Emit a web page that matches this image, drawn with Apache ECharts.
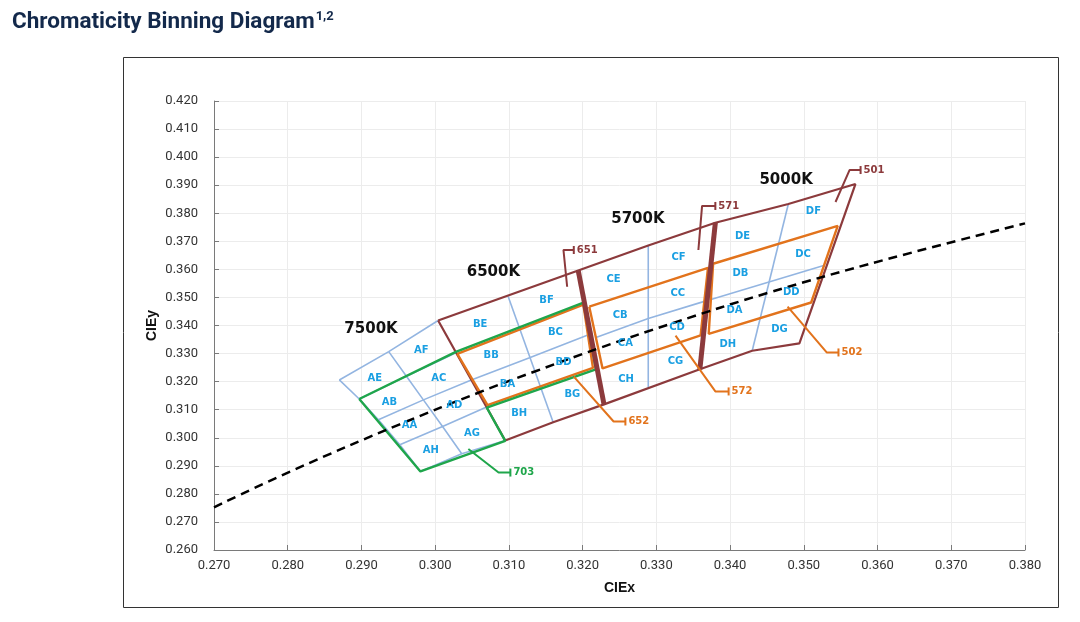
<!DOCTYPE html>
<html><head><meta charset="utf-8">
<script src="https://cdn.jsdelivr.net/npm/echarts@6/dist/echarts.min.js"></script>
<style>html,body{margin:0;padding:0;background:#fff}#c{width:1080px;height:622px}</style>
</head><body><div id="c"></div>
<script>
// ---- axis ranges ----
const xRange = [0.27, 0.38];
const yRange = [0.26, 0.42];
const tickStep = 0.01;

// ---- Planckian locus (dashed) ----
const planckX = [0.270, 0.2807, 0.2952, 0.3064, 0.3135, 0.3221, 0.3324, 0.3451, 0.3611, 0.380];
const planckY = [0.2752, 0.2884, 0.3048, 0.3166, 0.3236, 0.3318, 0.3410, 0.3516, 0.3635, 0.3764];

// ---- light blue sub-bin grid lines ----
const blue7500 = [
  [[0.2870,0.3206],[0.2897,0.3138],[0.2923,0.3064],[0.2952,0.2975],[0.2980,0.2880]],
  [[0.2937,0.3307],[0.2961,0.3219],[0.2984,0.3135],[0.3010,0.3040],[0.3036,0.2943]],
  [[0.2870,0.3206],[0.2937,0.3307],[0.3004,0.3418]],
  [[0.2897,0.3138],[0.2961,0.3219],[0.3029,0.3304]],
  [[0.2923,0.3064],[0.2984,0.3135],[0.3049,0.3206]],
  [[0.2952,0.2975],[0.3010,0.3040],[0.3069,0.3109]],
  [[0.2980,0.2880],[0.3036,0.2943],[0.3095,0.2990]]
];
const blue6500 = [
  [[0.3099,0.3503],[0.3160,0.3055]],
  [[0.3049,0.3206],[0.3128,0.3285],[0.3208,0.3367]]
];
const blue5700 = [
  [[0.3289,0.3685],[0.3289,0.3180]],
  [[0.3219,0.3358],[0.3289,0.3425],[0.3365,0.3486]]
];
const blue5000 = [
  [[0.3479,0.3833],[0.3430,0.3310]],
  [[0.3374,0.3493],[0.3527,0.3614]]
];

// ---- maroon outer outline and CCT separators ----
const outline = [[0.3004,0.3418],[0.3194,0.3596],[0.3289,0.3685],[0.3380,0.3766],[0.3479,0.3833],[0.3570,0.3904],
  [0.3494,0.3336],[0.3430,0.3310],[0.3359,0.3244],[0.3229,0.3119],[0.3160,0.3055],[0.3095,0.2990],[0.3004,0.3418]];
const sep651 = [[0.3194,0.3596],[0.3229,0.3119]];
const sep571 = [[0.3380,0.3766],[0.3359,0.3244]];

// ---- ANSI quadrangles (orange) ----
const ansi6500 = [[0.3030,0.3299],[0.3201,0.3474],[0.3214,0.3249],[0.3071,0.3116],[0.3030,0.3299]];
const ansi5700 = [[0.3209,0.3467],[0.3370,0.3605],[0.3360,0.3365],[0.3227,0.3247],[0.3209,0.3467]];
const ansi5000 = [[0.3377,0.3620],[0.3546,0.3755],[0.3510,0.3482],[0.3371,0.3370],[0.3377,0.3620]];

// ---- 703 zone (green) ----
const zone703 = [[0.2897,0.3138],[0.3028,0.3306],[0.3202,0.3482],[0.3218,0.3244],[0.3070,0.3107],[0.3095,0.2989],[0.2980,0.2880],[0.2897,0.3138]];

// ---- callouts ----
const leaderNames = ['651','571','501','652','572','502','703'];
const leaderKinds = ['maroon','maroon','maroon','orange','orange','orange','green'];
const leaderPts = [
  [[0.3179,0.3538],[0.3174,0.3669],[0.3188,0.3669]],
  [[0.3357,0.3669],[0.3362,0.3826],[0.3380,0.3826]],
  [[0.3543,0.3840],[0.3562,0.3954],[0.3577,0.3954]],
  [[0.3188,0.3218],[0.3242,0.3058],[0.3258,0.3058]],
  [[0.3326,0.3364],[0.3380,0.3165],[0.3398,0.3165]],
  [[0.3478,0.3467],[0.3531,0.3304],[0.3547,0.3304]],
  [[0.3045,0.2960],[0.3086,0.2876],[0.3102,0.2876]]
];

// ---- bin labels ----
const binNames = ['AE','AF','AB','AC','AA','AD','AH','AG','BE','BF','BB','BC','BA','BD','BH','BG',
  'CE','CF','CB','CC','CA','CD','CH','CG','DE','DF','DB','DC','DA','DD','DH','DG'];
const binX = [0.2918,0.2981,0.2938,0.3005,0.2965,0.3026,0.2994,0.3050, 0.3061,0.3151,0.3076,0.3163,0.3098,0.3174,0.3114,0.3186,
  0.3242,0.3330,0.3251,0.3329,0.3258,0.3328,0.3259,0.3326, 0.3417,0.3513,0.3414,0.3499,0.3406,0.3483,0.3397,0.3467];
const binY = [0.3210,0.3310,0.3126,0.3210,0.3044,0.3114,0.2955,0.3017, 0.3405,0.3488,0.3295,0.3375,0.3191,0.3268,0.3088,0.3155,
  0.3563,0.3642,0.3435,0.3513,0.3335,0.3393,0.3209,0.3272, 0.3719,0.3806,0.3584,0.3652,0.3453,0.3517,0.3334,0.3385];

// ---- CCT labels ----
const cctNames = ['7500K','6500K','5700K','5000K'];
const cctX = [0.2913,0.3079,0.3275,0.3476];
const cctY = [0.3388,0.3589,0.3779,0.3919];

// ================= build =================
const COL = {maroon:'#8c3a3c', orange:'#e2731c', green:'#1fa64b', blue:'#93b5e1', bin:'#1a9fe2'};
const series = [];
function addLine(pts, color, width, z, extra) {
  series.push(Object.assign({
    type:'line', data: pts, symbol:'none', silent:true, z:z,
    lineStyle:{color:color, width:width}, animation:false
  }, extra || {}));
}
[blue7500, blue6500, blue5700, blue5000].forEach(g => g.forEach(p => addLine(p, COL.blue, 1.6, 2)));
addLine(outline, COL.maroon, 2.2, 3);
addLine(ansi6500, COL.orange, 2.4, 4);
addLine(ansi5700, COL.orange, 2.4, 4);
addLine(ansi5000, COL.orange, 2.4, 4);
addLine(zone703, COL.green, 2.4, 5);
addLine(sep651, COL.maroon, 5, 6);
addLine(sep571, COL.maroon, 5, 6);
addLine(planckX.map((x,i)=>[x, planckY[i]]), '#000', 2.5, 7, {smooth:0.4, lineStyle:{color:'#000', width:2.5, type:[9,6]}});
leaderPts.forEach((pts, i) => {
  const c = COL[leaderKinds[i]];
  const data = pts.map((p, j) => j === pts.length - 1
    ? {value:p, symbol:'rect', symbolSize:[2,8], itemStyle:{color:c},
       label:{show:true, position:'right', distance:2, formatter:leaderNames[i], color:c,
              fontFamily:'DejaVu Sans', fontWeight:'bold', fontSize:10}}
    : {value:p, symbol:'none'});
  addLine(data, c, 2, 8, {showSymbol:true});
});
const labelSeriesBase = {type:'scatter', silent:true, z:9, symbolSize:1, animation:false,
  itemStyle:{color:'rgba(0,0,0,0)', opacity:1}};
series.push(Object.assign({}, labelSeriesBase, {
  data: binNames.map((n,i)=>({name:n, value:[binX[i], binY[i]]})),
  label:{show:true, position:'inside', formatter:p=>p.name, color:COL.bin, opacity:1, textBorderWidth:0,
         fontFamily:'DejaVu Sans', fontWeight:'bold', fontSize:10}
}));
series.push(Object.assign({}, labelSeriesBase, {
  data: cctNames.map((n,i)=>({name:n, value:[cctX[i], cctY[i]]})),
  label:{show:true, position:'inside', formatter:p=>p.name, color:'#111', opacity:1, textBorderWidth:0,
         fontFamily:'DejaVu Sans', fontWeight:'bold', fontSize:15}
}));

const axisCommon = {
  type:'value', interval:tickStep,
  axisLine:{show:true, lineStyle:{color:'#7a7a7a', width:1}},
  axisTick:{show:true, inside:true, length:5, lineStyle:{color:'#7a7a7a'}},
  splitLine:{show:true, lineStyle:{color:'#ececec', width:1}},
  axisLabel:{color:'#333', fontFamily:'Roboto', fontSize:13, formatter:v=>v.toFixed(3)},
  nameLocation:'middle', nameMoveOverlap:false,
  nameTextStyle:{color:'#111', fontFamily:'Liberation Sans', fontWeight:'bold', fontSize:14}
};

const chart = echarts.init(document.getElementById('c'), null, {renderer:'canvas'});
chart.setOption({
  animation:false,
  backgroundColor:'#fff',
  grid:{left:214, top:101, width:811, height:449, containLabel:false},
  xAxis:Object.assign({}, axisCommon, {min:xRange[0], max:xRange[1], name:'CIEx', nameGap:31,
    axisLabel:Object.assign({}, axisCommon.axisLabel, {margin:9})}),
  yAxis:Object.assign({}, axisCommon, {min:yRange[0], max:yRange[1], name:'CIEy', nameGap:55,
    axisLabel:Object.assign({}, axisCommon.axisLabel, {margin:16})}),
  graphic:[
    {type:'rect', z:-1, silent:true, shape:{x:123.5, y:57.5, width:935, height:550},
     style:{fill:'none', stroke:'#333', lineWidth:1}},
    {type:'text', left:12, top:10, silent:true,
     style:{text:'{a|Chromaticity Binning Diagram}{s|1,2}',
       rich:{a:{fontFamily:'Roboto', fontWeight:'bold', fontSize:22.5, fill:'#13294b', height:26},
             s:{fontFamily:'Roboto', fontWeight:'bold', fontSize:13, fill:'#13294b', verticalAlign:'top', height:26, padding:[0,0,12,1]}}}}
  ],
  series:series
});
</script></body></html>
